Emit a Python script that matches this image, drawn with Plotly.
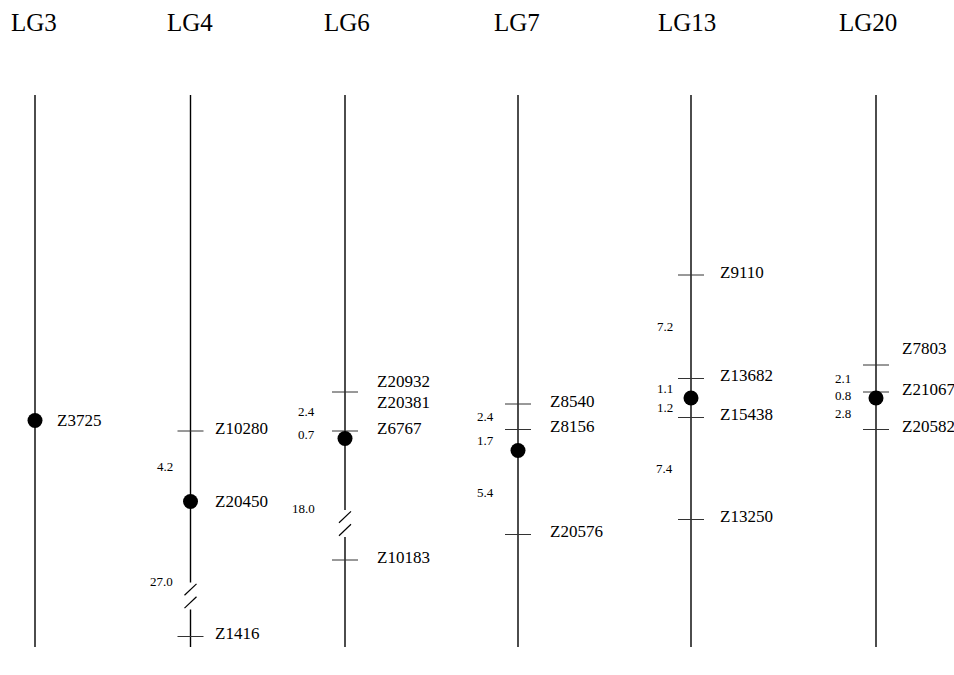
import plotly.graph_objects as go

# ---------------- data ----------------
GROUPS = ["LG3", "LG4", "LG6", "LG7", "LG13", "LG20"]

# marker names and their drawn map positions (figure cM scale, 0 = top of linkage group)
LG3_MARKERS = ["Z3725"]
LG3_POS = [21.7]
LG4_MARKERS = ["Z10280", "Z20450", "Z1416"]
LG4_POS = [22.4, 27.1, 36.1]
LG6_MARKERS = ["Z20932", "Z20381", "Z6767", "Z10183"]
LG6_POS = [19.8, 19.8, 22.4, 31.0]
LG7_MARKERS = ["Z8540", "Z8156", "Z20576"]
LG7_POS = [20.6, 22.3, 29.3]
LG13_MARKERS = ["Z9110", "Z13682", "Z15438", "Z13250"]
LG13_POS = [12.0, 18.9, 21.5, 28.3]
LG20_MARKERS = ["Z7803", "Z21067", "Z20582"]
LG20_POS = [18.0, 19.8, 22.3]

# QTL peak (filled dot) positions
QTL_POS = [21.7, 27.1, 22.9, 23.7, 20.2, 20.2]

# genetic distances (cM) between neighbouring loci: (label, from, to)
LG3_DIST = []
LG4_DIST = [("4.2", 22.4, 27.1), ("27.0", 27.1, 36.1)]
LG6_DIST = [("2.4", 19.8, 22.4), ("0.7", 22.4, 22.9), ("18.0", 22.9, 31.0)]
LG7_DIST = [("2.4", 20.6, 22.3), ("1.7", 22.3, 23.7), ("5.4", 23.7, 29.3)]
LG13_DIST = [("7.2", 12.0, 18.9), ("1.1", 18.9, 20.2), ("1.2", 20.2, 21.5), ("7.4", 21.5, 28.3)]
LG20_DIST = [("2.1", 18.0, 19.8), ("0.8", 19.8, 20.2), ("2.8", 20.2, 22.3)]

MARKERS = [LG3_MARKERS, LG4_MARKERS, LG6_MARKERS, LG7_MARKERS, LG13_MARKERS, LG20_MARKERS]
POSITIONS = [LG3_POS, LG4_POS, LG6_POS, LG7_POS, LG13_POS, LG20_POS]
DISTANCES = [LG3_DIST, LG4_DIST, LG6_DIST, LG7_DIST, LG13_DIST, LG20_DIST]

# ---------------- layout ----------------
FIG_W, FIG_H = 954, 675
PX_PER_UNIT, TOP_PX = 15.0, 95.0
X_CENTER = [35, 190.5, 345, 518, 691, 876]
TITLE_X = [34, 190, 347, 517, 687, 868]
TITLE_Y_PX = 22
LABEL_DX = [20, 22, 30, 30, 27, 24]
NUM_DX = [-16, -16, -28, -22, -16, -23]
LABEL_DY = {"Z20932": -0.7, "Z20381": 0.7, "Z7803": -1.13}
DEFAULT_DY = -0.2
CHROM_TOP, CHROM_BOTTOM = 0.0, 36.8
BREAK_MIN = 15.0       # distances this large are drawn broken
BREAK_FRAC = 0.7
GAP = 0.9
TICK_HALF = 13
SERIF = "Liberation Serif, Times New Roman, serif"

fig = go.Figure()
line_x, line_y = [], []
tick_x, tick_y = [], []
slash_x, slash_y = [], []
annotations = []

for g, name in enumerate(GROUPS):
    xc = X_CENTER[g]
    # chromosome backbone (with breaks)
    breaks = []
    for lab, a, b in DISTANCES[g]:
        if float(lab) >= BREAK_MIN:
            breaks.append(a + BREAK_FRAC * (b - a))
    segs_start = CHROM_TOP
    for c in sorted(breaks):
        line_x += [xc, xc, None]
        line_y += [segs_start, c - GAP, None]
        segs_start = c + GAP
        for s in (c - 0.43, c + 0.43):
            slash_x += [xc - 6, xc + 6, None]
            slash_y += [s + 0.38, s - 0.38, None]
    line_x += [xc, xc, None]
    line_y += [segs_start, CHROM_BOTTOM, None]

    # marker ticks and labels
    seen = set()
    for m, p in zip(MARKERS[g], POSITIONS[g]):
        is_dot = abs(p - QTL_POS[g]) < 1e-9
        if not is_dot and p not in seen:
            tick_x += [xc - TICK_HALF, xc + TICK_HALF, None]
            tick_y += [p, p, None]
            seen.add(p)
        dy = 0.0 if is_dot else LABEL_DY.get(m, DEFAULT_DY)
        annotations.append(dict(x=xc + LABEL_DX[g], y=p + dy, xref="x", yref="y",
                                text=m, showarrow=False, xanchor="left", yanchor="middle",
                                font=dict(family=SERIF, size=17, color="black")))

    # distance labels
    for lab, a, b in DISTANCES[g]:
        if float(lab) >= BREAK_MIN:
            ly = a + BREAK_FRAC * (b - a) - 1.0
        else:
            ly = (a + b) / 2
        annotations.append(dict(x=xc + NUM_DX[g], y=ly, xref="x", yref="y",
                                text=lab, showarrow=False, xanchor="right", yanchor="middle",
                                font=dict(family=SERIF, size=13, color="black")))

    # title
    annotations.append(dict(x=TITLE_X[g], y=1 - TITLE_Y_PX / FIG_H,
                            xref="x", yref="paper",
                            text=name, showarrow=False, xanchor="center", yanchor="middle",
                            font=dict(family=SERIF, size=25, color="black")))

fig.add_trace(go.Scatter(x=line_x, y=line_y, mode="lines",
                         line=dict(color="black", width=1.4), hoverinfo="skip"))
fig.add_trace(go.Scatter(x=tick_x, y=tick_y, mode="lines",
                         line=dict(color="#333333", width=1), hoverinfo="skip"))
fig.add_trace(go.Scatter(x=slash_x, y=slash_y, mode="lines",
                         line=dict(color="black", width=1.2), hoverinfo="skip"))
fig.add_trace(go.Scatter(x=X_CENTER, y=QTL_POS, mode="markers",
                         marker=dict(color="black", size=15, line=dict(width=0)),
                         hoverinfo="skip"))

y_top = -TOP_PX / PX_PER_UNIT
y_bot = (FIG_H - TOP_PX) / PX_PER_UNIT
fig.update_layout(
    width=FIG_W, height=FIG_H,
    margin=dict(l=0, r=0, t=0, b=0),
    paper_bgcolor="white", plot_bgcolor="white",
    showlegend=False,
    hovermode=False,
    xaxis=dict(range=[0, FIG_W], visible=False, fixedrange=True),
    yaxis=dict(range=[y_bot, y_top], visible=False, fixedrange=True),
    annotations=annotations,
)

fig.write_html("out.html",
               config={"displayModeBar": False, "staticPlot": True},
               post_script="document.body.style.margin='0';document.body.style.overflow='hidden';")
